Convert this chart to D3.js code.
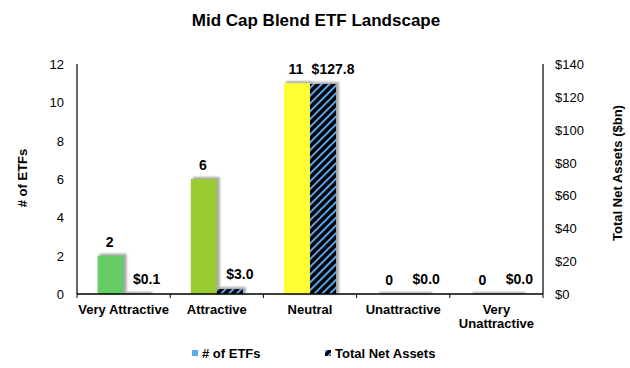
<!DOCTYPE html>
<html><head><meta charset="utf-8">
<script src="https://cdn.jsdelivr.net/npm/d3@7/dist/d3.min.js"></script>
<style>body{margin:0;background:#fff}svg{display:block;font-family:"Liberation Sans",Arial,sans-serif}</style>
</head><body><svg id="c" width="630" height="368"></svg>
<script>
const categories = ["Very Attractive", "Attractive", "Neutral", "Unattractive", "Very Unattractive"];
const etfCounts = [2, 6, 11, 0, 0];
const netAssets = [0.1, 3.0, 127.8, 0.0, 0.0];
const etfColors = ["#66CC66", "#99CC33", "#FFFF33", "#99CC33", "#99CC33"];
const leftTicks = [0, 2, 4, 6, 8, 10, 12];
const rightTicks = [0, 20, 40, 60, 80, 100, 120, 140];
const seriesNames = ["# of ETFs", "Total Net Assets"];

const svg = d3.select("#c");
const L = 77, R = 543, T = 64, B = 294;
const defs = svg.append("defs");
const pat = defs.append("pattern").attr("id","hatch").attr("patternUnits","userSpaceOnUse")
  .attr("width",5.5).attr("height",5.5).attr("patternTransform","rotate(45)");
pat.append("rect").attr("width",5.5).attr("height",5.5).attr("fill","#000");
pat.append("rect").attr("x",0).attr("width",2).attr("height",5.5).attr("fill","#5BA8F0");
const blur = defs.append("filter").attr("id","blur").attr("x","-20%").attr("y","-20%").attr("width","140%").attr("height","140%");
blur.append("feGaussianBlur").attr("stdDeviation",1);

const x0 = d3.scaleBand().domain(categories).range([L, R]).paddingInner(0).paddingOuter(0);
const x1 = d3.scaleBand().domain(seriesNames).range([0, x0.bandwidth()]).paddingInner(0).paddingOuter(0.79);
const yL = d3.scaleLinear().domain([0, 12]).range([B, T]);
const yR = d3.scaleLinear().domain([0, 140]).range([B, T]);

// title
svg.append("text").attr("x",316).attr("y",26).attr("text-anchor","middle")
  .attr("font-size",17).attr("font-weight","bold").text("Mid Cap Blend ETF Landscape");

// bars
const rows = categories.map((c,i)=>({c, n: etfCounts[i], a: netAssets[i], col: etfColors[i]}));
const g = svg.append("g");
rows.forEach(d=>{
  const bars = [
    {key: seriesNames[0], y: yL(d.n), fill: d.col},
    {key: seriesNames[1], y: yR(d.a), fill: "url(#hatch)"}
  ];
  bars.forEach(b=>{
    const bx = x0(d.c) + x1(b.key), w = x1.bandwidth();
    const h = B - b.y;
    g.append("rect").attr("x",bx+2).attr("y",b.y-2).attr("width",w+1).attr("height",Math.max(h+2,2.5))
      .attr("fill","#a8a8a8").attr("filter","url(#blur)");
  });
  bars.forEach(b=>{
    const bx = x0(d.c) + x1(b.key), w = x1.bandwidth();
    const h = B - b.y;
    if (h > 0) g.append("rect").attr("x",bx).attr("y",b.y).attr("width",w).attr("height",h).attr("fill",b.fill);
  });
});

// axes
const axB = d3.axisBottom(x0).tickSize(4).tickFormat("");
svg.append("g").attr("transform",`translate(0,${B})`).call(axB)
  .call(s=>{s.select(".domain").attr("stroke","#000").attr("stroke-width",1.5).attr("d",`M${L},0H${R}`);});
svg.selectAll(".tick line").remove();
svg.append("g").selectAll("line").data(d3.range(categories.length+1)).join("line")
  .attr("x1",i=>L+i*x0.step()).attr("x2",i=>L+i*x0.step()).attr("y1",B).attr("y2",B+4).attr("stroke","#000");

svg.append("line").attr("x1",L).attr("x2",L).attr("y1",T).attr("y2",B).attr("stroke","#000").attr("stroke-width",1.2);
svg.append("line").attr("x1",R).attr("x2",R).attr("y1",T).attr("y2",B).attr("stroke","#000").attr("stroke-width",1.2);

svg.append("g").selectAll("text").data(leftTicks).join("text")
  .attr("x",64).attr("y",d=>yL(d)+5).attr("text-anchor","end").attr("font-size",13).text(d=>d);
svg.append("g").selectAll("text").data(rightTicks).join("text")
  .attr("x",555).attr("y",d=>yR(d)+5).attr("text-anchor","start").attr("font-size",13).text(d=>"$"+d);

// category labels
categories.forEach(c=>{
  const cx = x0(c) + x0.bandwidth()/2;
  const parts = c === "Very Unattractive" ? ["Very","Unattractive"] : [c];
  parts.forEach((p,i)=>{
    svg.append("text").attr("x",cx).attr("y",314+i*14).attr("text-anchor","middle")
      .attr("font-size",13).attr("font-weight","bold").text(p);
  });
});

// axis titles
svg.append("text").attr("transform","translate(27,178) rotate(-90)").attr("text-anchor","middle")
  .attr("font-size",13).attr("font-weight","bold").text("# of ETFs");
svg.append("text").attr("transform","translate(622,173) rotate(-90)").attr("text-anchor","middle")
  .attr("font-size",13).attr("font-weight","bold").text("Total Net Assets ($bn)");

// data labels
rows.forEach(d=>{
  svg.append("text").attr("x",x0(d.c)+x1(seriesNames[0])+x1.bandwidth()/2-1).attr("y",yL(d.n)-9)
    .attr("text-anchor","middle").attr("font-size",14).attr("font-weight","bold").text(d.n);
  svg.append("text").attr("x",x0(d.c)+x1(seriesNames[1])+x1.bandwidth()/2+10).attr("y",yR(d.a)-10)
    .attr("text-anchor","middle").attr("font-size",14).attr("font-weight","bold").text("$"+d.a.toFixed(1));
});

// legend
const lg = svg.append("g").attr("transform","translate(190,353)");
lg.append("rect").attr("x",2).attr("y",-3).attr("width",6).attr("height",6).attr("fill","#5BA8F0");
lg.append("text").attr("x",12).attr("y",5).attr("font-size",13).attr("font-weight","bold").text(seriesNames[0]);
lg.append("rect").attr("x",135).attr("y",-3).attr("width",6).attr("height",6).attr("fill","url(#hatch)");
lg.append("text").attr("x",145).attr("y",5).attr("font-size",13).attr("font-weight","bold").text(seriesNames[1]);
</script></body></html>
